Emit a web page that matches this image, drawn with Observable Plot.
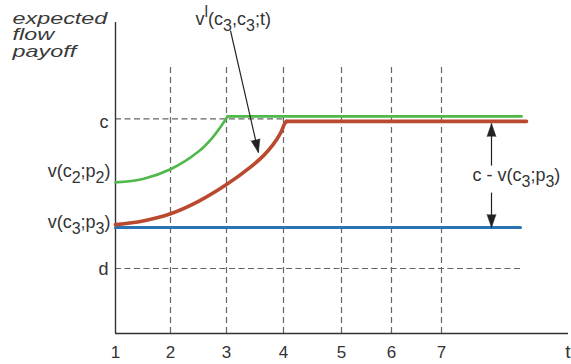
<!DOCTYPE html>
<html>
<head>
<meta charset="utf-8">
<script src="https://cdn.jsdelivr.net/npm/d3@7"></script>
<script src="https://cdn.jsdelivr.net/npm/@observablehq/plot@0.6"></script>
<style>
  html, body { margin: 0; padding: 0; background: #fff; }
</style>
</head>
<body>
<div id="chart"></div>
<script>
// ---- data ----
const xKnots = [1, 2, 3, 4, 5, 6, 7, 8];
const xKnotPx = [115, 170, 226, 283, 341, 391, 441, 491];
const tickValues = [1, 2, 3, 4, 5, 6, 7];
const gridX = [2, 3, 4, 5, 6, 7];
const gridTop = 8.65;
const xEnd = 8.64;

const levelC = 6.90;
const levelD = 2.09;
const levelV2 = 4.86;
const levelV3 = 3.41;

// green: v(c2;p2) rising to c at t=3, then flat
const greenT = [1, 1.5, 2, 2.5, 2.75, 3.02];
const greenV = [4.86, 4.97, 5.28, 5.85, 6.30, 6.98];
const greenFlatT = [3.02, 8.6];
const greenFlatV = [6.98, 6.98];

// red: v^l(c3,c3;t) rising to c at t=4, then flat
const redT = [1, 1.5, 2, 2.5, 3, 3.42, 3.65, 3.82, 3.95, 4.02, 4.05];
const redV = [3.50, 3.62, 3.85, 4.25, 4.79, 5.35, 5.72, 6.08, 6.45, 6.75, 6.82];
const redFlatT = [4.05, 8.7];
const redFlatV = [6.82, 6.82];

// blue: v(c3;p3) constant
const blueT = [1, 8.58];
const blueV = [levelV3, levelV3];

// pointer arrow from label to red curve
const pointer = {x1: 3.07, y1: 9.74, x2: 3.56, y2: 5.82};
// double arrow c - v(c3;p3)
const gapX = 8;
const gapTop = 6.75, gapTopInner = 5.40, gapBotInner = 4.53, gapBot = 3.41;

const yLabels = ["c", "d", "v(c_2;p_2)", "v(c_3;p_3)"];
const yLabelLevels = [levelC, levelD, levelV2, levelV3];
const title = "expected\nflow\npayoff";
const curveLabel = "v^l(c_3,c_3;t)";
const gapLabel = "c - v(c_3;p_3)";
const xLabel = "t";

const green = "#4fb84a", red = "#b94a30", blue = "#2a74b5";
const dashC = "#666", axisC = "#333";

const pts = (xs, ys) => xs.map((x, i) => ({x, y: ys[i]}));

const labelDy = [3, 1, -11, -5];
const labelDx = [-7, -7, -5, -5];

const plot = Plot.plot({
  width: 571,
  height: 364,
  marginLeft: 115,
  marginRight: 3,
  marginTop: 22,
  marginBottom: 31,
  x: {type: "linear", domain: xKnots, range: xKnotPx, label: null},
  y: {domain: [0, 10], axis: null},
  style: {fontFamily: "'Liberation Sans', Arial, sans-serif", background: "#fff", color: "#333"},
  marks: [
    // dashed guides
    Plot.ruleX(gridX, {x: d => d, y1: 0, y2: gridTop, stroke: dashC, strokeWidth: 1.2, strokeDasharray: "6,4"}),
    Plot.ruleY([levelC], {y: d => d, x1: 1, x2: 4, stroke: dashC, strokeWidth: 1.2, strokeDasharray: "6,3.5"}),
    Plot.ruleY([levelD], {y: d => d, x1: 1, x2: xEnd, stroke: dashC, strokeWidth: 1.2, strokeDasharray: "6,3.5"}),
    // axes lines
    Plot.ruleY([0], {stroke: axisC, strokeWidth: 1.4}),
    Plot.ruleX([1], {stroke: axisC, strokeWidth: 1.4}),
    Plot.axisX({ticks: tickValues, tickSize: 0, tickPadding: 12, fontSize: 17, tickFormat: d => String(d), label: null, color: "#333"}),
    // series
    Plot.line(pts(blueT, blueV), {x: "x", y: "y", stroke: blue, strokeWidth: 3}),
    Plot.line(pts(greenT, greenV), {x: "x", y: "y", stroke: green, strokeWidth: 2.6, curve: "catmull-rom"}),
    Plot.line(pts(greenFlatT, greenFlatV), {x: "x", y: "y", stroke: green, strokeWidth: 2.6}),
    Plot.line(pts(redT, redV), {x: "x", y: "y", stroke: red, strokeWidth: 3.6, curve: "catmull-rom"}),
    Plot.line(pts(redFlatT, redFlatV), {x: "x", y: "y", stroke: red, strokeWidth: 3.6}),
    // pointer arrow
    Plot.link([pointer], {x1: "x1", y1: "y1", x2: "x2", y2: "y2", stroke: "#222", strokeWidth: 1.2}),
    Plot.vector([pointer], {x: "x2", y: "y2", rotate: 167, length: 13, r: 4.5, shape: "spike", anchor: "end", fill: "#222", stroke: "#222", strokeWidth: 0.5}),
    // double arrow
    Plot.link([{a: gapTop, b: gapTopInner}, {a: gapBotInner, b: gapBot}], {x1: gapX, x2: gapX, y1: "a", y2: "b", stroke: "#222", strokeWidth: 1.2}),
    Plot.vector([{y: gapTop, r: 0}, {y: gapBot, r: 180}], {x: gapX, y: "y", rotate: "r", length: 13, r: 4.5, shape: "spike", anchor: "end", fill: "#222", stroke: "#222", strokeWidth: 0.5}),
    // y labels
    ...yLabels.map((lab, i) => Plot.text([lab], {x: 1, y: yLabelLevels[i], text: d => d, textAnchor: "end", lineAnchor: "middle", dx: labelDx[i], dy: labelDy[i], fontSize: 18, fill: "#333"})),
    // labels
    Plot.text([curveLabel], {x: pointer.x1, y: pointer.y1, text: d => d, textAnchor: "start", lineAnchor: "middle", dx: -35, dy: -11, fontSize: 18, fill: "#333"}),
    Plot.text([gapLabel], {x: gapX, y: (redFlatV[0] + levelV3) / 2, text: d => d, textAnchor: "start", lineAnchor: "middle", dx: -19, dy: 1, fontSize: 18, fill: "#333"}),
    Plot.text([xLabel], {frameAnchor: "bottom-right", text: d => d, textAnchor: "end", lineAnchor: "top", dx: 2, dy: 11, fontSize: 19, fill: "#333"}),
    Plot.text([title], {frameAnchor: "top-left", text: d => d, textAnchor: "start", lineAnchor: "top", lineHeight: 1.02, dx: -103, dy: -10, fontSize: 16, fontStyle: "italic", fill: "#3a3a3a"})
  ]
});

// rich text: subscripts (_x) and superscripts (^x)
d3.select(plot).selectAll("text").each(function () {
  const t = this.textContent;
  if (t.startsWith("expected")) {
    const tr = this.getAttribute("transform");
    if (tr) this.setAttribute("transform", tr + " scale(1.46,1)");
    else {
      const x = +this.getAttribute("x") || 0, y = +this.getAttribute("y") || 0;
      this.removeAttribute("x"); this.removeAttribute("y");
      this.setAttribute("transform", `translate(${x},${y}) scale(1.46,1)`);
    }
    return;
  }
  if (!/[_^]/.test(t)) return;
  const el = d3.select(this);
  el.text(null);
  let shift = 0;
  const re = /([_^])(.)|([^_^]+)/g;
  let m;
  while ((m = re.exec(t))) {
    if (m[3]) {
      el.append("tspan").attr("dy", -shift).text(m[3]);
      shift = 0;
    } else {
      const s = m[1] === "_" ? 6 : -8;
      el.append("tspan").attr("dy", s - shift).attr("font-size", 16).text(m[2]);
      shift = s;
    }
  }
});

document.getElementById("chart").appendChild(plot);
</script>
</body>
</html>
